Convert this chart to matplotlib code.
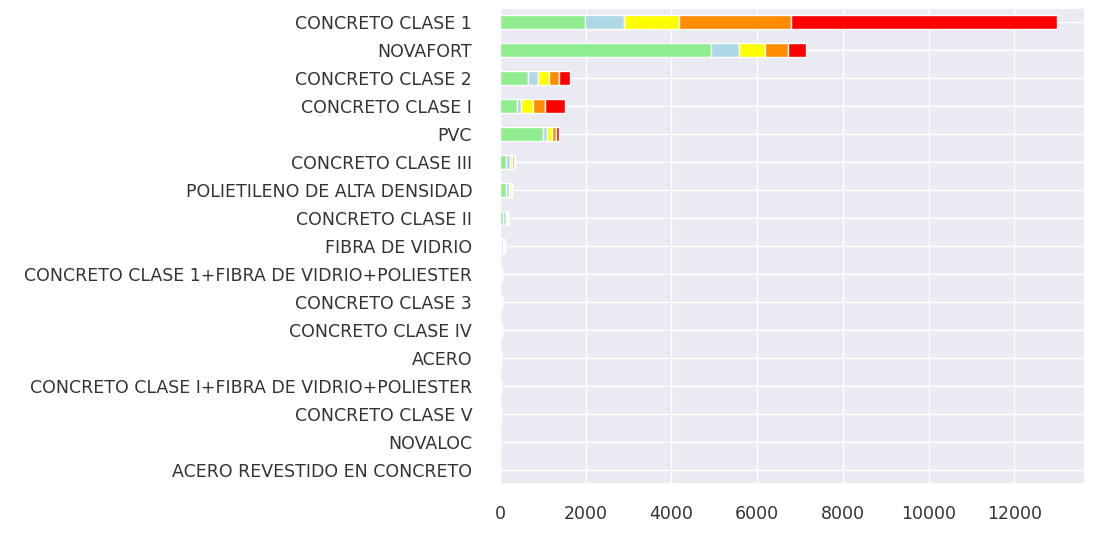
"""
Stacked horizontal bars: length by pipe material, split into five condition levels.
"""

import matplotlib
matplotlib.use('Agg')
import matplotlib.pyplot as plt
import numpy as np
import seaborn as sns

MATERIALS = [
    'CONCRETO CLASE 1', 'NOVAFORT', 'CONCRETO CLASE 2', 'CONCRETO CLASE I',
    'PVC', 'CONCRETO CLASE III', 'POLIETILENO DE ALTA DENSIDAD',
    'CONCRETO CLASE II', 'FIBRA DE VIDRIO',
    'CONCRETO CLASE 1+FIBRA DE VIDRIO+POLIESTER', 'CONCRETO CLASE 3',
    'CONCRETO CLASE IV', 'ACERO',
    'CONCRETO CLASE I+FIBRA DE VIDRIO+POLIESTER', 'CONCRETO CLASE V',
    'NOVALOC', 'ACERO REVESTIDO EN CONCRETO',
]
LEVEL_1 = [1980, 4920, 650, 400, 1000, 130, 140, 70, 30, 15, 15, 12, 8, 6, 5, 3, 2]
LEVEL_2 = [910, 650, 240, 90, 100, 110, 70, 60, 40, 15, 12, 10, 8, 6, 5, 3, 2]
LEVEL_3 = [1280, 605, 250, 280, 120, 50, 40, 30, 20, 10, 8, 8, 6, 5, 4, 2, 2]
LEVEL_4 = [2610, 555, 235, 280, 90, 40, 20, 20, 10, 8, 6, 6, 5, 4, 3, 2, 1]
LEVEL_5 = [6220, 400, 255, 465, 60, 30, 10, 10, 10, 6, 5, 4, 4, 3, 2, 1, 1]
LEVELS = [LEVEL_1, LEVEL_2, LEVEL_3, LEVEL_4, LEVEL_5]
COLORS = ['lightgreen', 'lightblue', 'yellow', 'darkorange', 'red']


def main():
    sns.set_theme(style='darkgrid')
    fig = plt.figure(figsize=(11.02, 5.33), dpi=100)
    ax = fig.add_axes([0.4537, 0.092, 0.5309, 0.893])

    ypos = np.arange(len(MATERIALS))
    left = np.zeros(len(MATERIALS))
    for vals, color in zip(LEVELS, COLORS):
        vals = np.array(vals, dtype=float)
        ax.barh(ypos, vals, left=left, height=0.5, color=color,
                edgecolor='white', linewidth=1)
        left += vals

    ax.set_yticks(ypos)
    ax.set_yticklabels(MATERIALS, fontsize=12.5, color='#333333')
    ax.set_ylim(len(MATERIALS) - 0.5, -0.5)
    ax.set_xlim(0, 13650)
    ax.set_xticks(np.arange(0, 12001, 2000))
    ax.tick_params(axis='x', labelsize=12.5, labelcolor='#333333', pad=9)
    ax.tick_params(axis='y', pad=14)

    fig.savefig('out.png', dpi=100)
    plt.close()


if __name__ == '__main__':
    main()
